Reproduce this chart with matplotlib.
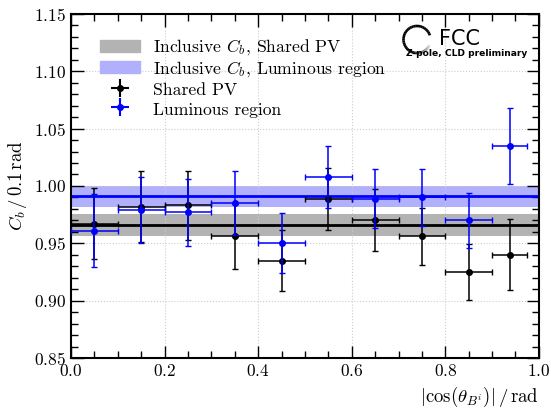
import numpy as np
import matplotlib.pyplot as plt
from matplotlib.patches import Patch, Arc, Rectangle
from matplotlib.legend_handler import HandlerPatch
from matplotlib.ticker import MultipleLocator

plt.rcParams['font.family'] = 'serif'
plt.rcParams['font.serif'] = ['cmr10', 'DejaVu Serif']
plt.rcParams['mathtext.fontset'] = 'cm'
plt.rcParams['axes.unicode_minus'] = False
plt.rcParams['axes.formatter.use_mathtext'] = True

# bins in |cos(theta)|
x_c = [0.05, 0.15, 0.25, 0.35, 0.45, 0.55, 0.65, 0.75, 0.85, 0.9375]
x_w = [0.05, 0.05, 0.05, 0.05, 0.05, 0.05, 0.05, 0.05, 0.05, 0.0375]

# per-bin C_b, shared PV
cb_pv = [0.967, 0.982, 0.983, 0.956, 0.935, 0.989, 0.970, 0.956, 0.925, 0.940]
cb_pv_err = [0.031, 0.031, 0.030, 0.028, 0.027, 0.027, 0.027, 0.025, 0.024, 0.031]

# per-bin C_b, luminous region
cb_lr = [0.961, 0.979, 0.977, 0.985, 0.950, 1.008, 0.989, 0.990, 0.970, 1.035]
cb_lr_err = [0.032, 0.029, 0.029, 0.028, 0.026, 0.027, 0.026, 0.025, 0.024, 0.033]

# inclusive values
incl_pv, incl_pv_err = 0.966, 0.0095
incl_lr, incl_lr_err = 0.991, 0.009

fig = plt.figure(figsize=(5.51, 4.08), dpi=100)
ax = fig.add_axes([0.129, 0.1225, 0.849, 0.8435])

ax.axhspan(incl_pv - incl_pv_err, incl_pv + incl_pv_err, color='#b3b3b3', lw=0, zorder=1)
ax.axhline(incl_pv, color='black', lw=2, zorder=2)
ax.axhspan(incl_lr - incl_lr_err, incl_lr + incl_lr_err, color='#b0b0fc', lw=0, zorder=1)
ax.axhline(incl_lr, color='blue', lw=2, zorder=2)

ax.errorbar(x_c, cb_pv, xerr=x_w, yerr=cb_pv_err, fmt='o', color='black', ms=4,
            elinewidth=1.1, capsize=2, capthick=1, zorder=3)
ax.errorbar(x_c, cb_lr, xerr=x_w, yerr=cb_lr_err, fmt='o', color='blue', ms=4,
            elinewidth=1.1, capsize=2, capthick=1, zorder=4)

ax.set_xlim(0, 1)
ax.set_ylim(0.85, 1.15)
ax.xaxis.set_major_locator(MultipleLocator(0.2))
ax.xaxis.set_minor_locator(MultipleLocator(0.05))
ax.yaxis.set_major_locator(MultipleLocator(0.05))
ax.yaxis.set_minor_locator(MultipleLocator(0.01))
ax.xaxis.set_major_formatter(plt.FuncFormatter(lambda v, p: f'${v:.1f}$'))
ax.yaxis.set_major_formatter(plt.FuncFormatter(lambda v, p: f'${v:.2f}$'))
ax.tick_params(which='both', direction='in', top=True, right=True, labelsize=12.5)
ax.tick_params(which='major', length=9, width=1)
ax.tick_params(which='minor', length=5, width=1)
for s in ax.spines.values():
    s.set_linewidth(1.5)
ax.grid(True, which='major', linestyle=':', color='#cccccc', lw=0.8, zorder=0)

ax.set_ylabel(r'$C_b\,/\,0.1\,\mathrm{rad}$', fontsize=13.5)
ax.set_xlabel(r'$|\cos(\theta_{B^i})|\,/\,\mathrm{rad}$', fontsize=13.5, loc='right')


def short_patch(legend, orig_handle, xdescent, ydescent, width, height, fontsize):
    return Rectangle((-xdescent, -ydescent + 0.15 * height), width, 0.7 * height)


handles = [Patch(color='#b3b3b3'), Patch(color='#b0b0fc'),
           ax.errorbar([], [], xerr=[], yerr=[], fmt='o', color='black', ms=4, capsize=2),
           ax.errorbar([], [], xerr=[], yerr=[], fmt='o', color='blue', ms=4, capsize=2)]
labels = [r'Inclusive $C_b$, Shared PV', r'Inclusive $C_b$, Luminous region',
          'Shared PV', 'Luminous region']
ax.legend(handles, labels, loc='upper left', bbox_to_anchor=(0.062, 0.933), frameon=False,
          fontsize=12.7, handlelength=2.25, handleheight=1.13, handletextpad=0.75,
          labelspacing=0.1, borderpad=0, borderaxespad=0,
          handler_map={Patch: HandlerPatch(patch_func=short_patch)})

# FCC logo: open ring fading out at the lower right
cx, cy, r = 417, 408 - 39.5, 13.5
n = 40
thetas = np.linspace(18, 335, n + 1)
for i in range(n):
    frac = i / n
    shade = 0.0 if frac < 0.72 else 0.92 * (frac - 0.72) / 0.28
    arc = Arc((cx, cy), 2 * r, 2 * r, theta1=thetas[i], theta2=thetas[i + 1] + 0.5,
              transform=None, color=str(shade), lw=1.9)
    fig.patches.append(arc)
fig.text(439 / 551, 1 - 39 / 408, 'FCC', family='DejaVu Sans', fontsize=15,
         va='center', ha='left')
fig.text(467 / 551, 1 - 54 / 408, 'Z-pole, CLD preliminary', family='DejaVu Sans',
         fontsize=6.6, fontweight='bold', va='center', ha='center')

fig.savefig('out.png', dpi=100)
